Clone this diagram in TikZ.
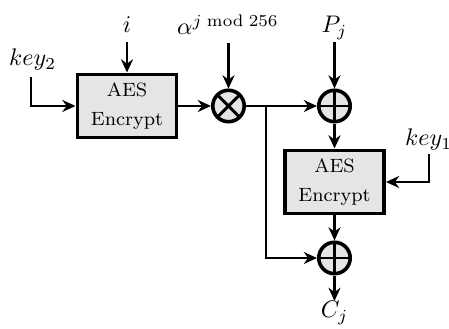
\documentclass[tikz,border=0pt]{standalone}
\usetikzlibrary{arrows.meta,calc}
\definecolor{boxgray}{gray}{0.9}
\begin{document}
\begin{tikzpicture}[x=0.41667pt,y=-0.41667pt,
  line width=1pt,
  arr/.style={-{Stealth[length=5.5pt,width=5pt]}, line width=1.05pt},
  aesbox/.style={draw, line width=1.5pt, fill=boxgray, font=\footnotesize, align=center, inner sep=0pt, minimum width=41.4pt, minimum height=26.4pt},
  opnode/.style={circle, draw, line width=1.5pt, fill=boxgray, minimum size=13.1pt, inner sep=0pt},
  oplusnode/.style={opnode, path picture={\draw[line width=1.2pt] (path picture bounding box.north) -- (path picture bounding box.south) (path picture bounding box.west) -- (path picture bounding box.east);}},
  otimesnode/.style={opnode, path picture={\draw[line width=1.2pt] (path picture bounding box.south west) -- (path picture bounding box.north east) (path picture bounding box.north west) -- (path picture bounding box.south east);}},
  lbl/.style={inner sep=0pt, font=\normalsize}]
\useasboundingbox (0,0) rectangle (449,329);
% nodes
\node[aesbox] (e1) at (127,106) {AES\\[2.5pt]Encrypt};
\node[aesbox] (e2) at (334.5,182) {AES\\[2.5pt]Encrypt};
\node[otimesnode] (m) at (228.5,106) {};
\node[oplusnode] (x1) at (334.5,106) {};
\node[oplusnode] (x2) at (334.5,258) {};
% labels
\node[lbl, anchor=base] (i) at (127,33) {$i$};
\node[lbl, anchor=base west] (k2) at (8,66) {$key_2$};
\node[lbl, anchor=base] (al) at (228,35) {$\alpha^{j \bmod 256}$};
\node[lbl, anchor=base] (p) at (334.5,33) {$P_j$};
\node[lbl, anchor=base west] (k1) at (404,146) {$key_1$};
\node[lbl, anchor=base] (c) at (334.5,318) {$C_j$};
% free ends
\coordinate (ti) at (127,42);
\coordinate (tk2) at (31,77);
\coordinate (ta) at (228.5,43);
\coordinate (tp) at (334.5,42);
\coordinate (tk1) at (429,154);
\coordinate (tc) at (334.5,301);
\coordinate (br) at (266,106);
% connectors
\draw[arr] (ti) -- (e1.north);
\draw[arr] (tk2) |- (e1.west);
\draw[arr] (e1.east) -- (m.west);
\draw[arr] (ta) -- (m.north);
\draw[arr] (m.east) -- (x1.west);
\draw[arr] (tp) -- (x1.north);
\draw[arr] (x1.south) -- (e2.north);
\draw[arr] (tk1) |- (e2.east);
\draw[arr] (e2.south) -- (x2.north);
\draw[arr] (br) |- (x2.west);
\draw[arr] (x2.south) -- (tc);
\end{tikzpicture}
\end{document}
